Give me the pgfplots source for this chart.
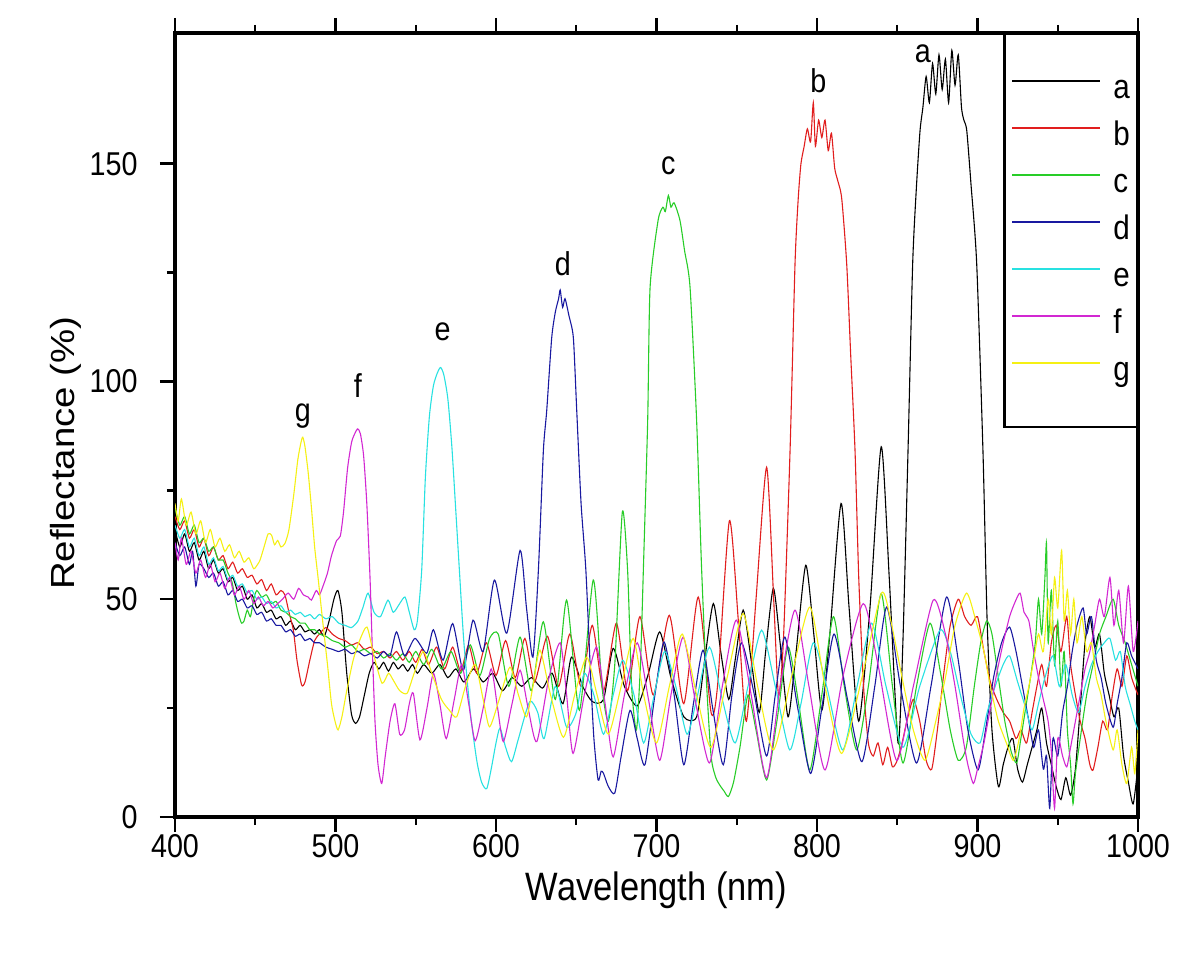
\documentclass[border=0pt]{standalone}
\usepackage{fontspec}
\setmainfont{Liberation Sans}[FakeStretch=0.87]
\newfontfamily\plainfont{Liberation Sans}
\usepackage{graphicx}
\usepackage{pgfplots}
\pgfplotsset{compat=1.18}
\usetikzlibrary{calc}
\definecolor{cA}{RGB}{0,0,0}
\definecolor{cB}{RGB}{225,30,30}
\definecolor{cC}{RGB}{40,205,40}
\definecolor{cD}{RGB}{25,25,160}
\definecolor{cE}{RGB}{40,225,225}
\definecolor{cF}{RGB}{210,40,210}
\definecolor{cG}{RGB}{245,240,20}
\begin{document}
\begin{tikzpicture}
\begin{axis}[
  scale only axis, width=481.5pt, height=392pt,
  xmin=400, xmax=1000, ymin=0, ymax=180,
  xtick={400,500,...,1000}, ytick={0,50,100,150},
  minor x tick num=1, minor y tick num=1,
  xtick pos=both, ytick pos=left,
  tick align=outside,
  major tick length=7.5pt, minor tick length=4pt,
  axis line style={line width=1.6pt},
  tick style={black, line width=1.2pt},
  /pgf/number format/assume math mode=true,
  /pgf/number format/1000 sep={},
  ticklabel style={font=\fontsize{16.5}{19}\selectfont},
  xticklabel style={anchor=base, inner sep=0pt, yshift=-12.5pt},
  yticklabel style={anchor=east, inner sep=0pt, xshift=-11pt},
  xlabel={Wavelength (nm)},
  xlabel style={at={(axis description cs:0.5,-0.106)}, anchor=base, inner sep=0pt, font=\fontsize{19.8}{22}\selectfont},
  ylabel={\scalebox{1}[0.87]{Reflectance (\%)}},
  ylabel style={at={(axis description cs:-0.1298,0.464)}, anchor=north, inner sep=0pt, font=\plainfont\fontsize{19.2}{22}\selectfont},
  legend style={at={(rel axis cs:1,1)}, anchor=north east, draw=black, line width=1.2pt, fill=white,
    inner xsep=3.5pt, inner ysep=20pt, row sep=8pt, font=\fontsize{17}{20}\selectfont,
    cells={anchor=west}, nodes={inner sep=0pt, text height=12pt, text depth=3.5pt},
    /tikz/every odd column/.append style={column sep=6pt}},
  legend image code/.code={\draw[#1, line width=0.9pt] (0pt,4.25pt) -- (44pt,4.25pt);},
  every axis plot/.append style={line width=0.55pt, smooth, tension=0.4},
]
\addplot[cA] coordinates {(400,66)(403,62)(406,65)(409,61)(412,63)(415,59)(418,61)(421,57)(424,59)(427,56)(430,57)(433,54)(436,55)(439,52)(442,53)(445,50)(448,51)(451,48)(454,49)(457,47)(460,47.5)(463,45.5)(466,46)(469,44)(472,45)(475,43)(478,44)(481,42.5)(484,43)(487,42)(490,43)(493,41.5)(496,45)(499,50)(501.5,52)(504,47)(507,33)(510,23.5)(512.5,21.5)(515,23)(518,28)(521,33)(524,35.5)(527,34)(530,35.5)(533,33.5)(536,35.5)(539,34)(542,35)(545,33.5)(548,35)(551,33)(555,35)(560,33)(565,35)(570,32)(575,34)(580,31)(586,34)(592,31)(598,33)(604,29)(610,32)(616,30)(622,32)(629,29.6)(635,33)(641.7,26)(647,36.7)(654,30)(660,26.5)(667,27)(673,38.7)(680,30)(688,25.5)(695,33)(702,42.5)(709,32)(717,23)(725,23)(730,36)(735.4,49)(740,38)(745,27)(749,36)(754,47.5)(759,36)(764,24)(768,38)(772.8,52.5)(777,40)(782,23)(787,38)(793,57.8)(798,42)(803,24.5)(808,42)(815,72)(820,48)(826,22)(833,48)(840,85)(845,55)(850.5,17)(853.5,40)(856.7,84)(859.6,127)(862,145)(864.2,157.6)(866,163)(868,170)(870,164)(872,173)(874,166)(876,175)(878,167)(880,174)(882,164)(884,176)(886,168)(888,175)(890,163)(891.5,160)(893.3,157.6)(896,145)(899.5,127)(903.4,84)(906,45)(909,20)(913,7)(916,12)(919,16)(922,18)(925,11)(928,8)(931,12)(934,16)(937,20)(940,25)(943,17)(946,12)(949,7)(952,4)(955,9)(958,5)(961,11)(964,25)(967,40)(970,46)(973,39)(976,42)(979,33)(982,28)(985,23)(988,25)(991,14)(994,8)(997,3)(1000,12)};
\addlegendentry{a}
\addplot[cB] coordinates {(400,69)(403,66)(406,68)(409,64)(412,66)(415,62)(418,64)(421,60)(424,62)(427,59)(430,60)(433,57)(436,58.5)(439,56)(442,57)(445,55)(448,55.5)(451,53.5)(454,54.5)(457,52)(460,53.5)(463,51)(466,52)(468.5,51)(471,47)(473.7,43)(476,36)(478.9,30.3)(481,31)(484,36)(487,40.5)(490,42)(494,43.5)(498,42)(502,41)(506,40.5)(510,39.5)(514,40)(518,38.5)(522,39)(526,37.5)(530,38)(534,36.5)(538,38)(542,36)(546,38)(550,35.5)(554,38.5)(558,35)(563,39)(568,34)(573,39)(578,33.5)(583,39.5)(588,33)(594,40)(600,32.5)(606,40.5)(612,32)(618,41)(624,31)(632,41.5)(639,30)(646,42)(653,30)(660,44)(667,29)(675,44.5)(682,29)(689.7,46)(698,28)(708,46.3)(717,26)(726,50.5)(734,24)(738,30)(745.4,68)(751,45)(756,22)(762,50)(768.6,80.3)(773,50)(776,28)(779,40)(783.2,84)(786.3,127)(788.3,142)(790,150)(792,154)(794,158)(796,155)(797.7,164)(799,154)(801,160)(803,156)(805,160)(807,153)(809,157)(811,149)(813,146)(815.4,142)(818.5,127)(821,106)(823.7,84)(826,55)(829,30)(832,17)(835,14)(838,17)(841,12)(844,16)(847,11.5)(850,13)(853,17)(856,22)(860,27)(864,22)(868,13)(871.5,11)(875,20)(879,33)(883,44)(888,50)(892,46)(896,44)(900,46)(904,38)(908,31)(912,27)(916,24)(920,22)(924,18)(927,20)(930.6,17)(934,24)(937,30)(940,35)(943,30)(946,40)(949,44)(952,38)(955.6,46)(958,35)(961,28)(964,22)(967,18)(970,12)(972,10.8)(975,16)(978,22)(981,20)(984,28)(987,34)(990,30)(993,37)(996,32)(1000,28)};
\addlegendentry{b}
\addplot[cC] coordinates {(400,71)(403,67)(406,69)(409,65)(412,67)(415,63)(418,64)(421,61)(424,62)(427,59)(430,59)(433,56)(435.5,54)(438,49)(440,46)(441.5,44.5)(443,45)(445,47.5)(447,46)(449,50)(451,52)(454,50.5)(457,51)(460,49)(463,49.5)(466,47.5)(469,47)(472,46)(475,45.5)(478,44.5)(481,44.5)(484,43)(487,43)(490,42)(494,41.5)(498,40.5)(502,40)(506,39)(510,39.5)(514,38)(518,38.5)(522,37.5)(526,38)(530,36.5)(534,37.5)(538,36)(542,37.5)(546,35.5)(550,38)(555,35)(560,38.5)(566,34)(572,38)(578,33)(584,39.5)(590,32.5)(596,41)(601.4,42)(608,30)(615,41.3)(622,29)(629.5,44.8)(637,27)(644,49.8)(652,24.5)(660.6,54.4)(666,30)(670,22)(674,35)(678.7,70)(682,56.6)(684.5,30)(687.5,20)(690,35)(691.8,56.6)(694.5,91)(696,121.6)(701,137)(704,140)(705.5,139)(707.4,142.7)(709,140)(711,141)(714.6,137)(717.5,130)(720.9,121.6)(725,91)(728,58)(731,32)(734,14)(737,9)(740,7)(742,6)(744.8,4.7)(748,8)(752,16)(757,28)(762,20)(768.6,8.5)(775,22)(782,39)(789,25)(795.6,10.8)(803,28)(810.2,46)(817,30)(824.7,15.4)(832,30)(840,51.3)(847,30)(853.6,12.4)(862,30)(870.4,44.5)(877,33)(883,20)(888,13)(893,16)(898,30)(902,40)(905.7,45)(909,42)(913,32)(917,22)(921,15)(924.4,12.4)(927,18)(930,25)(933,32)(936,40)(938,50)(940,42)(942,55)(943,62.8)(944,40)(946,52)(948,35)(950,45)(952,30)(954,38)(956,20)(958,12)(959.5,3)(961,10)(964,18)(968,28)(972,35)(976,42)(980,46)(984.5,50)(988,44)(992,40)(996,35)(1000,30)};
\addlegendentry{c}
\addplot[cD] coordinates {(400,63)(403,60)(406,62)(409,58)(411,61)(413,53)(415,58)(418,57)(421,55)(424,56)(427,53)(430,54)(433,51)(436,52)(439,49.5)(442,50)(445,48)(448,48.5)(451,46.5)(454,47)(457,45)(460,45.5)(463,44)(466,44)(469,42.5)(472,43)(475,41.5)(478,42)(481,40.5)(484,41)(487,40)(490,40)(494,39)(498,38.5)(502,38)(506,38.5)(510,37.5)(514,38)(518,37)(522,37.5)(526,36.5)(530,38)(534,37)(538,42.5)(543,37)(549.5,41)(556.8,37.6)(561,43)(567,36)(573,44.4)(579.6,33.7)(585.7,45.2)(592,38)(599,54.4)(606.7,42.2)(615,61.2)(619,48)(623,36.7)(626.4,56.6)(629.5,84)(631.6,93.3)(634.7,110)(637,116)(639,119)(640,121)(641.5,117)(643,119)(645.5,115)(648.2,110)(650.3,93.3)(653,72)(656,56.6)(659,32)(661,18)(663.6,8.5)(665.5,10.5)(667,10)(670,7)(674,5.5)(678,14)(683.5,24.5)(688,18)(692.8,12)(699,28)(704.7,40.2)(711,28)(717,12)(723,26)(729,38.3)(735,25)(741.6,12)(747,28)(753,40)(761,28)(768.6,14)(774,28)(780,41.3)(788,25)(796,10)(803,25)(810.6,42)(819,27)(828,12.7)(836,30)(843.4,48.2)(852,30)(862,12.4)(871,30)(880.7,50.5)(888,36)(894,20)(900.3,10.8)(905,20)(910,32)(915,40)(920,43.6)(924,38)(928,30)(932,22)(935,16)(938,20)(941,11)(943,14)(945,2)(947,18)(950,14)(953,24)(956,30)(959,38)(962,44)(965.8,48)(968,42)(971,46)(974,36)(977,32)(980,26)(984.5,20.6)(987,26)(990,32)(993,40)(996,37)(1000,34)};
\addlegendentry{d}
\addplot[cE] coordinates {(400,67)(403,64)(406,66)(409,62)(412,64)(415,60)(418,62)(421,58)(424,59.5)(427,56.5)(430,57.5)(433,54.5)(436,55.5)(439,53)(442,53.5)(445,51.5)(448,52)(451,50)(454,50.5)(457,49)(460,49.5)(463,48)(466,48.5)(469,47)(472,47.5)(475,46.5)(478,47)(481,46)(484,46.5)(487,45.5)(490,46.5)(494,45.5)(498,46)(502,44.5)(506,44)(510,43.5)(514,45)(517,48)(520.3,51.4)(524,47)(528,46)(532.7,49.8)(536,47)(540,49)(543.3,50.5)(546,47)(549,43)(551,45)(553.7,56.6)(556,78)(558.5,92)(561,99)(563.5,102)(565.5,103.2)(567.5,101.5)(570,96)(572.5,85)(575,70)(577.2,56.6)(580,40)(584,24)(588,13)(591,8)(594.2,6.5)(597,11)(600,17)(602.5,20.4)(606,16)(609.7,12.7)(614,18)(621,26.5)(626,24)(630,18)(637,30)(644,20.6)(650,24)(655,33)(661,28)(667,19)(673,28)(679,36)(686,28)(692,17)(698,27)(705,38)(712,30)(719,19)(725,27)(733,39)(741,27)(749,17)(757,30)(765.5,42.9)(774,30)(783,15.4)(790,26)(797.7,40)(806,30)(816,15.4)(825,30)(834,44.5)(843,30)(853.6,16)(864,30)(876.6,42.9)(883,38)(890,27)(896,19)(901.6,17)(906,24)(911,30)(916,35)(920,37)(925,31)(930,25)(934,20)(938,26)(942,32)(947,37)(951,30)(955,35)(959,28)(963,24)(967,30)(971,35)(975,38)(979,40)(982.5,41)(986,36)(989,38)(992,30)(995,26)(998,22)(1000,20)};
\addlegendentry{e}
\addplot[cF] coordinates {(400,63)(402,59)(404,64)(407,58)(410,61)(413,56)(416,59)(419,55)(422,58)(425,54)(428,56)(431,52.5)(434,55)(437,51)(440,53)(443,50)(446,52)(449,49)(452,50.5)(455,48.5)(458,49.5)(461,48)(464,49)(467,50)(470.5,51.4)(474,50)(477,52.5)(480,51)(483,50.5)(485,49.8)(488,52)(490,51)(492.4,53.2)(495,56)(497.5,60)(500.7,63.5)(503,64.5)(505,70)(507.5,80)(510,86)(512,88)(513.8,89.1)(515.5,88)(517.5,83)(519.5,72)(521.5,55)(523,38)(524.6,22)(526.5,12)(528.8,7.7)(531,14)(534,22)(537,26)(540,19)(543,20)(546,26)(548.5,28.4)(552.6,17.7)(557,25)(561,33)(565,26)(569,18)(574,27)(578.6,35)(583,26)(587,17.5)(592,25)(597,34)(601,25)(604.6,17.3)(610,26)(615,33.7)(620,25)(625.4,17.3)(633,32)(640,40)(644,28)(648,14.6)(655,28)(662.6,39)(668,26)(673,13.8)(680,28)(688,40)(695,27)(702,13)(709,28)(716.6,41.3)(724,27)(733,12.4)(741,30)(749.8,45.2)(759,28)(768.6,9)(777,30)(786.3,47.5)(795,30)(805,10.8)(816,32)(828.8,49)(838,35)(849.6,13)(860,30)(872.4,49.8)(880,42)(886,30)(891,18)(894,12)(897.4,7.7)(900,11)(904,17)(908,25)(912,33)(916,40)(920,46)(923,49)(926.5,51.4)(929,47)(932,45)(935,38)(938,32)(941,27)(944,22)(946,15)(948,2)(950,18)(953,14)(955.6,11.5)(958,16)(961,22)(964,28)(967,34)(970,38)(973,44)(976,50)(979,46)(982.5,55)(985,44)(988,52)(991,40)(994,53)(997,38)(1000,45)};
\addlegendentry{f}
\addplot[cG] coordinates {(400,72)(402,68)(404,73)(407,67)(410,70)(413,65)(416,68)(419,63)(422,66)(425,62)(428,64)(431,61)(434,62.5)(437,59.5)(440,61)(443,58.5)(446,59.5)(449,57)(451.5,58)(453,59)(455.5,62)(458,65)(460.2,64.7)(462,62.5)(464,63.5)(466,62)(468.5,62.8)(471,66)(474,74)(476.5,82)(478.5,86)(479.6,87.2)(481,85)(483,79)(485,71)(487,62)(489.3,54.4)(492,45)(495,35)(497.5,26)(499.7,22)(501.6,20)(504,23)(507,29)(511,36)(515,40.5)(519.6,43.6)(524,37)(529,30.7)(533,33)(536,31.4)(540,29)(544.6,28.4)(549,33)(554.7,38)(560,33)(566,27)(571,24.5)(575.5,23)(581,30)(587,35)(592,27)(596,20.7)(602,27)(608.7,34.4)(614,28)(619,23)(623,30)(627.4,38.3)(634,28)(642,18.3)(649,28)(656.5,36.7)(663,28)(670,19)(678,30)(685.5,41)(692,28)(700,17)(708,30)(716,42)(725,28)(734,16)(744,32)(754,46.7)(763,30)(772.8,15.4)(784,32)(795.6,48.2)(805,30)(815.4,14.6)(828,32)(840.2,51.4)(846,45)(853,32)(860,20)(867.3,13)(874,22)(880,32)(886,44)(893.2,51.4)(899,45)(904,38)(908,30)(913,22)(918,17)(922.3,13)(926,18)(929,25)(932,30)(935,36)(938,42)(941,38)(944,50)(946,42)(948,55)(950,48)(952.4,61.2)(954,45)(956,52)(958,42)(960,50)(962,40)(965,46)(968,38)(971,40)(974,32)(977,28)(980,22)(984.5,15.4)(987,20)(990,12)(993,7.7)(996,16)(998,10)(1000,20)};
\addlegendentry{g}
\node[anchor=base, font=\fontsize{16.5}{18}\selectfont] at (axis cs:866,173.2) {a};
\node[anchor=base, font=\fontsize{16.5}{18}\selectfont] at (axis cs:800.8,166.4) {b};
\node[anchor=base, font=\fontsize{16.5}{18}\selectfont] at (axis cs:707.3,147.5) {c};
\node[anchor=base, font=\fontsize{16.5}{18}\selectfont] at (axis cs:641.7,124.3) {d};
\node[anchor=base, font=\fontsize{16.5}{18}\selectfont] at (axis cs:566.8,109.4) {e};
\node[anchor=base, font=\fontsize{16.5}{18}\selectfont] at (axis cs:514,96.3) {f};
\node[anchor=base, font=\fontsize{16.5}{18}\selectfont] at (axis cs:479.6,90.8) {g};
\coordinate (bl) at (rel axis cs:0,0);
\coordinate (tr) at (rel axis cs:1,1);
\end{axis}
\pgfresetboundingbox
\path[use as bounding box] ($(bl)+(-87.5pt,-71.5pt)$) rectangle ($(tr)+(31pt,16.5pt)$);
\end{tikzpicture}
\end{document}
